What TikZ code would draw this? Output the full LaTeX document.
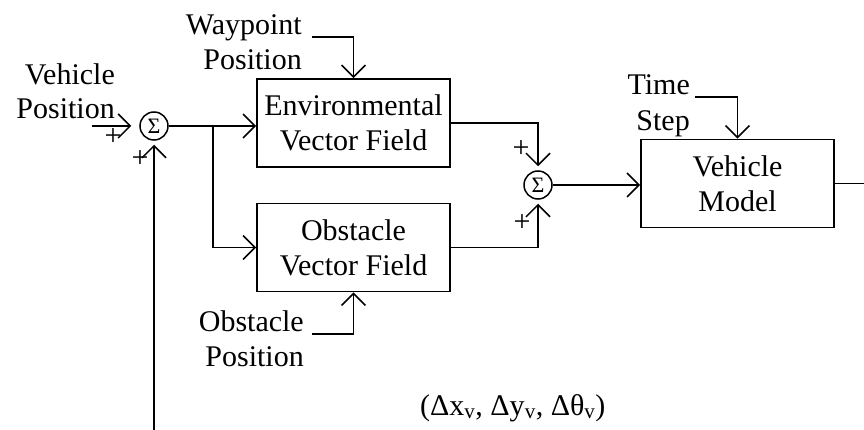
\documentclass[tikz,border=0pt]{standalone}
\usepackage{fontspec}
\setmainfont{Liberation Serif}
\usetikzlibrary{arrows.meta}
\tikzset{
  blockbox/.style={draw, line width=1.8pt, minimum width=193pt, minimum height=88pt,
    inner sep=0pt, align=center, font=\fontsize{30}{35}\selectfont},
  sumnode/.style={draw, circle, line width=1.5pt, minimum size=28pt, inner sep=0pt,
    font=\fontsize{22}{22}\selectfont},
  txt/.style={inner sep=0pt, font=\fontsize{30}{35}\selectfont},
  plusmark/.style={inner sep=0pt, font=\fontsize{30}{30}\selectfont},
  sig/.style={line width=1.5pt},
  arr/.style={sig, -{Straight Barb[length=12pt,width=24pt]}},
}
\begin{document}
\begin{tikzpicture}[x=1pt,y=-1pt]
\useasboundingbox (0,0) rectangle (864,430);
\fill[white] (0,0) rectangle (864,430);

% blocks
\node[blockbox] (env) at (353.5,123) {Environmental\\Vector Field};
\node[blockbox] (obs) at (353.5,247.5) {Obstacle\\Vector Field};
\node[blockbox] (veh) at (737.5,183.5) {Vehicle\\Model};

% summing junctions
\node[sumnode] (s1) at (154,126) {Σ};
\node[sumnode] (s2) at (538,185) {Σ};

% external input labels
\node[txt, anchor=base east] (vp1) at (115,85) {Vehicle};
\node[txt, anchor=base east] (vp2) at (115,119) {Position};
\node[txt, anchor=base east] (wp1) at (302,35) {Waypoint};
\node[txt, anchor=base east] (wp2) at (302,70) {Position};
\node[txt, anchor=base east] (ts1) at (690,95) {Time};
\node[txt, anchor=base east] (ts2) at (690,131) {Step};
\node[txt, anchor=base east] (op1) at (304,331) {Obstacle};
\node[txt, anchor=base east] (op2) at (304,366) {Position};
\node[txt, anchor=base west] (state) at (420,415)
  {(Δx\textsubscript{v}, Δy\textsubscript{v}, Δθ\textsubscript{v})};

% sign marks
\node[plusmark] (p1) at (113,137) {+};
\node[plusmark] (p2) at (140,159) {+};
\node[plusmark] (p3) at (521,149) {+};
\node[plusmark] (p4) at (522,223) {+};

% free ends
\coordinate (vpin) at (92,126);
\coordinate (fb) at (154,430);
\coordinate (br) at (213,126);
\coordinate (wpin) at (312,37);
\coordinate (tsin) at (695,97);
\coordinate (opin) at (312,334);
\coordinate (vout) at (864,183.5);

% connectors
\draw[arr, shorten >=8pt] (vpin) -- (s1.west);
\draw[arr, shorten >=4pt] (fb) -- (s1.south);
\draw[arr] (s1.east) -- (s1 -| env.west);
\draw[arr] (br) |- (obs.west);
\draw[arr] (wpin) -| (env.north);
\draw[arr] (opin) -| (obs.south);
\draw[arr, shorten >=4pt] (env.east) -| (s2.north);
\draw[arr, shorten >=4pt] (obs.east) -| (s2.south);
\draw[arr] (s2.east) -- (s2 -| veh.west);
\draw[arr] (tsin) -| (veh.north);
\draw[sig] (veh.east) -- (vout);
\end{tikzpicture}
\end{document}
